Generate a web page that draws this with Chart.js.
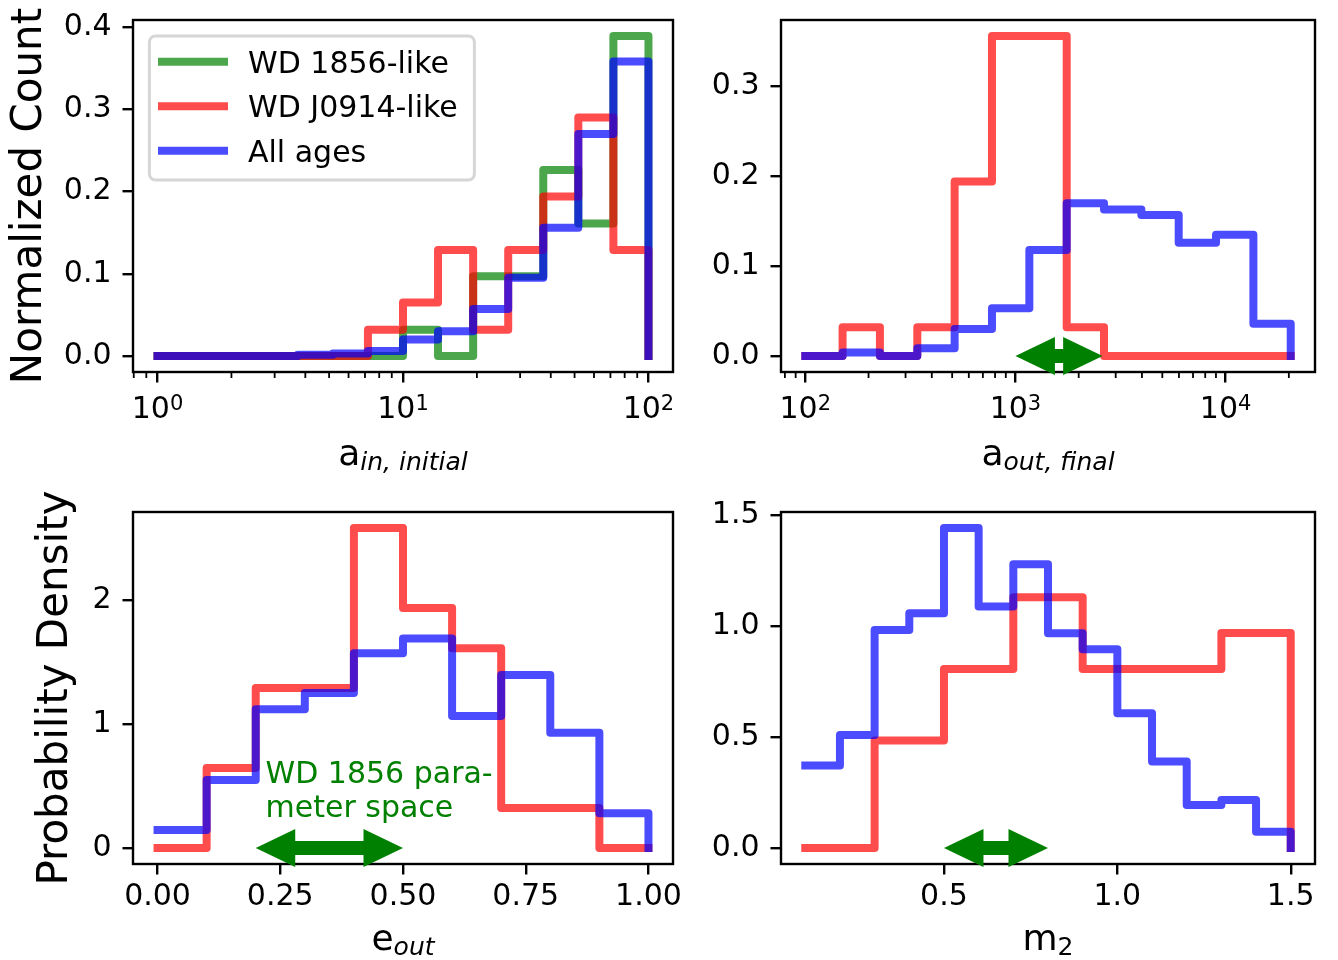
<!DOCTYPE html>
<html>
<head>
<meta charset="utf-8">
<script src="https://cdn.jsdelivr.net/npm/chart.js@4.4.1/dist/chart.umd.min.js"></script>
<style>
  html, body { margin: 0; padding: 0; background: #fff; }
  #fig { position: relative; width: 1338px; height: 960px; }
  canvas { position: absolute; }
</style>
</head>
<body>
<div id="fig">
  <canvas id="aIn" width="700" height="480" style="left:0;top:0"></canvas>
  <canvas id="aOut" width="638" height="480" style="left:700px;top:0"></canvas>
  <canvas id="eOut" width="700" height="480" style="left:0;top:480px"></canvas>
  <canvas id="m2" width="638" height="480" style="left:700px;top:480px"></canvas>
</div>
<script>
const seriesNames = ['WD 1856-like', 'WD J0914-like', 'All ages'];
const seriesColors = ['rgba(0,128,0,0.7)', 'rgba(255,0,0,0.7)', 'rgba(0,0,255,0.7)'];

// a_in, initial (14 log bins, 1..100)
const aInEdges = [1, 1.389, 1.931, 2.683, 3.728, 5.179, 7.197, 10, 13.89, 19.31, 26.83, 37.28, 51.79, 71.97, 100];
const aInWD1856 = [0, 0, 0, 0, 0, 0, 0, 0.032, 0, 0.097, 0.097, 0.226, 0.161, 0.389];
const aInJ0914 = [0, 0, 0, 0, 0, 0, 0.032, 0.065, 0.129, 0.032, 0.129, 0.194, 0.29, 0.129];
const aInAll = [0, 0, 0, 0, 0.0015, 0.003, 0.006, 0.02, 0.03, 0.057, 0.095, 0.156, 0.27, 0.358];

// a_out, final (13 log bins)
const aOutEdges = [100, 150.5, 226.6, 341.3, 513.7, 773.4, 1164.8, 1753.5, 2639.6, 3974, 5982.6, 9006.5, 13563, 20417];
const aOutJ0914 = [0, 0.032, 0, 0.032, 0.194, 0.356, 0.356, 0.032, 0, 0, 0, 0, 0];
const aOutAll = [0, 0.004, 0, 0.0085, 0.03, 0.053, 0.118, 0.17, 0.163, 0.157, 0.126, 0.135, 0.036];

// e_out
const eOutEdges = [0, 0.1, 0.2, 0.3, 0.4, 0.5, 0.6, 0.7, 0.8, 0.9, 1.0];
const eOutJ0914 = [0, 0.645, 1.29, 1.29, 2.58, 1.935, 1.61, 0.323, 0.323, 0];
const eOutAll = [0.145, 0.548, 1.118, 1.25, 1.57, 1.69, 1.065, 1.395, 0.93, 0.28];

// m_2
const m2EdgesJ0914 = [0.1, 0.3, 0.5, 0.7, 0.9, 1.1, 1.3, 1.5];
const m2J0914 = [0, 0.484, 0.806, 1.129, 0.806, 0.806, 0.968];
const m2EdgesAll = [0.1, 0.2, 0.3, 0.4, 0.5, 0.6, 0.7, 0.8, 0.9, 1.0, 1.1, 1.2, 1.3, 1.4, 1.5];
const m2All = [0.371, 0.509, 0.982, 1.057, 1.441, 1.087, 1.278, 0.967, 0.895, 0.607, 0.389, 0.194, 0.216, 0.073];

// WD 1856 parameter space arrows
const aOutArrow = [1000, 2600];
const eOutArrow = [0.2, 0.5];
const m2Arrow = [0.5, 0.8];

// ticks
const aInTicks = [1, 10, 100];
const aInMinor = [0.8, 0.9, 2, 3, 4, 5, 6, 7, 8, 9, 20, 30, 40, 50, 60, 70, 80, 90];
const aOutTicks = [100, 1000, 10000];
const aOutMinor = [80, 90, 200, 300, 400, 500, 600, 700, 800, 900, 2000, 3000, 4000, 5000, 6000, 7000, 8000, 9000, 20000];
const countTicksL = [0, 0.1, 0.2, 0.3, 0.4];
const countTicksR = [0, 0.1, 0.2, 0.3];
const eOutTicks = [0, 0.25, 0.5, 0.75, 1];
const densTicksL = [0, 1, 2];
const m2Ticks = [0.5, 1, 1.5];
const densTicksR = [0, 0.5, 1, 1.5];

Chart.defaults.font.family = 'DejaVu Sans';
Chart.defaults.color = '#000';

const font30 = { family: 'DejaVu Sans', size: 30 };
const tickGrid = { drawOnChartArea: false, drawTicks: true, tickLength: 10.5, tickWidth: 2.4, lineWidth: 2.4, tickColor: '#000', color: '#000' };

const fixed = n => v => Number(v).toFixed(n);
const blank = () => '';

function linPad(lo, hi) { const d = (hi - lo) * 0.05; return [lo - d, hi + d]; }
function logPad(lo, hi) {
  const a = Math.log10(lo), b = Math.log10(hi), d = (b - a) * 0.05;
  return [Math.pow(10, a - d), Math.pow(10, b + d)];
}
const maxOf = (...arrs) => Math.max(...arrs.flat());

// histogram outline: step across each bin, then drop to zero at the last edge
function steps(edges, heights) {
  const pts = heights.map((h, i) => ({ x: edges[i], y: h }));
  pts.push({ x: edges[edges.length - 1], y: 0 });
  return pts;
}
function histSet(idx, edges, heights) {
  return {
    label: seriesNames[idx],
    data: steps(edges, heights),
    borderColor: seriesColors[idx],
    borderWidth: 8,
    stepped: 'before',
    pointRadius: 0,
    borderCapStyle: 'square',
    borderJoinStyle: 'round',
    fill: false,
    order: 2 - idx,
  };
}

function xAxis(kind, range, ticks, fmt, pad, h) {
  return {
    type: kind, min: range[0], max: range[1], bounds: 'data',
    afterBuildTicks: s => { s.ticks = ticks.map(v => ({ value: v, major: true })); },
    afterFit: s => { s.height = h; s.paddingLeft = 0; s.paddingRight = 0; },
    grid: tickGrid, border: { display: false },
    ticks: { font: font30, color: '#000', padding: pad, autoSkip: false, maxRotation: 0, minRotation: 0, callback: fmt },
  };
}
function yAxis(range, ticks, fmt, w, title, titlePad) {
  return {
    type: 'linear', min: range[0], max: range[1], bounds: 'data',
    afterBuildTicks: s => { s.ticks = ticks.map(v => ({ value: v })); },
    afterFit: s => { s.width = w; s.paddingTop = 0; s.paddingBottom = 0; },
    grid: tickGrid, border: { display: false },
    ticks: { font: font30, color: '#000', padding: 11, autoSkip: false, callback: fmt },
    title: { display: !!title, text: title || '', color: '#000', font: { family: 'DejaVu Sans', size: 42 }, padding: { top: titlePad || 0, bottom: 0 } },
  };
}

function drawArrow(ctx, xa, xb, yc) {
  const hl = 39.5, hw = 19, sw = 7;
  ctx.beginPath();
  ctx.moveTo(xa, yc);
  ctx.lineTo(xa + hl, yc - hw);
  ctx.lineTo(xa + hl, yc - sw);
  ctx.lineTo(xb - hl, yc - sw);
  ctx.lineTo(xb - hl, yc - hw);
  ctx.lineTo(xb, yc);
  ctx.lineTo(xb - hl, yc + hw);
  ctx.lineTo(xb - hl, yc + sw);
  ctx.lineTo(xa + hl, yc + sw);
  ctx.lineTo(xa + hl, yc + hw);
  ctx.closePath();
  ctx.fillStyle = '#008000';
  ctx.fill();
}

const figureExtras = {
  id: 'figureExtras',
  afterDatasetsDraw(chart, args, opts) {
    const { ctx, chartArea: a } = chart;
    const x = chart.scales.x, y = chart.scales.y;
    ctx.save();

    // minor ticks and 10^n labels on log axes
    if (opts.minor) {
      ctx.strokeStyle = '#000';
      ctx.lineWidth = 1.8;
      opts.minor.forEach(v => {
        const px = x.getPixelForValue(v);
        if (px < a.left || px > a.right) return;
        ctx.beginPath();
        ctx.moveTo(px, a.bottom);
        ctx.lineTo(px, a.bottom + 6);
        ctx.stroke();
      });
    }
    if (opts.powers) {
      ctx.fillStyle = '#000';
      ctx.textAlign = 'left';
      ctx.textBaseline = 'alphabetic';
      opts.powers.forEach(v => {
        const exp = String(Math.round(Math.log10(v)));
        ctx.font = '30px "DejaVu Sans"';
        const wb = ctx.measureText('10').width;
        ctx.font = '21px "DejaVu Sans"';
        const we = ctx.measureText(exp).width;
        const x0 = x.getPixelForValue(v) - (wb + we) / 2;
        const base = a.bottom + 46.3;
        ctx.font = '30px "DejaVu Sans"';
        ctx.fillText('10', x0, base);
        ctx.font = '21px "DejaVu Sans"';
        ctx.fillText(exp, x0 + wb, base - 8.5);
      });
    }

    // axes frame
    ctx.strokeStyle = '#000';
    ctx.lineWidth = 2.4;
    ctx.strokeRect(a.left, a.top, a.right - a.left, a.bottom - a.top);

    // legend box
    if (opts.legend) {
      ctx.beginPath();
      ctx.roundRect(a.left + 16.4, a.top + 16, 325, 144, 6);
      ctx.fillStyle = 'rgba(255,255,255,0.8)';
      ctx.fill();
      ctx.strokeStyle = '#d6d6d6';
      ctx.lineWidth = 3;
      ctx.stroke();
      ctx.font = '30px "DejaVu Sans"';
      ctx.textAlign = 'left';
      ctx.textBaseline = 'alphabetic';
      seriesNames.forEach((name, i) => {
        const ry = a.top + 41.7 + i * 44.5;
        ctx.strokeStyle = seriesColors[i];
        ctx.lineWidth = 8;
        ctx.lineCap = 'square';
        ctx.beginPath();
        ctx.moveTo(a.left + 29, ry);
        ctx.lineTo(a.left + 91, ry);
        ctx.stroke();
        ctx.fillStyle = '#000';
        ctx.fillText(name, a.left + 115, ry + 10.9);
      });
    }

    // parameter-space arrow
    if (opts.arrow) {
      drawArrow(ctx, x.getPixelForValue(opts.arrow[0]), x.getPixelForValue(opts.arrow[1]), y.getPixelForValue(0));
    }

    // green note
    if (opts.note) {
      ctx.fillStyle = '#008000';
      ctx.font = '30px "DejaVu Sans"';
      ctx.textAlign = 'left';
      ctx.textBaseline = 'alphabetic';
      const px = x.getPixelForValue(opts.note.x), py = y.getPixelForValue(opts.note.y);
      const n = opts.note.lines.length;
      opts.note.lines.forEach((t, i) => ctx.fillText(t, px, py - (n - 1 - i) * 33.5));
    }

    // x label with subscript
    if (opts.xlabel) {
      const { main, sub, italic, drop } = opts.xlabel;
      const f1 = '36px "DejaVu Sans"';
      const f2 = (italic ? 'italic ' : '') + '25px "DejaVu Sans"';
      ctx.font = f1;
      const w1 = ctx.measureText(main).width;
      ctx.font = f2;
      const w2 = ctx.measureText(sub).width;
      const x0 = (a.left + a.right) / 2 - (w1 + w2) / 2;
      const base = a.bottom + drop;
      ctx.fillStyle = '#000';
      ctx.textAlign = 'left';
      ctx.textBaseline = 'alphabetic';
      ctx.font = f1;
      ctx.fillText(main, x0, base);
      ctx.font = f2;
      ctx.fillText(sub, x0 + w1, base + 5);
    }
    ctx.restore();
  }
};

function makePanel(id, datasets, scales, extras, padding) {
  return new Chart(document.getElementById(id), {
    type: 'line',
    data: { datasets },
    options: {
      responsive: false,
      animation: false,
      events: [],
      layout: { padding },
      plugins: { legend: { display: false }, tooltip: { enabled: false }, figureExtras: extras },
      scales,
    },
    plugins: [figureExtras],
  });
}

makePanel('aIn',
  [histSet(0, aInEdges, aInWD1856), histSet(1, aInEdges, aInJ0914), histSet(2, aInEdges, aInAll)],
  {
    x: xAxis('logarithmic', logPad(aInEdges[0], aInEdges[aInEdges.length - 1]), aInTicks, blank, 7.4, 108),
    y: yAxis(linPad(0, maxOf(aInWD1856, aInJ0914, aInAll)), countTicksL, fixed(1), 133, 'Normalized Count', 5),
  },
  { legend: true, minor: aInMinor, powers: aInTicks, xlabel: { main: 'a', sub: 'in, initial', italic: true, drop: 93 } },
  { left: 0, right: 27, top: 20, bottom: 0 });

makePanel('aOut',
  [histSet(1, aOutEdges, aOutJ0914), histSet(2, aOutEdges, aOutAll)],
  {
    x: xAxis('logarithmic', logPad(aOutEdges[0], aOutEdges[aOutEdges.length - 1]), aOutTicks, blank, 7.4, 108),
    y: yAxis(linPad(0, maxOf(aOutJ0914, aOutAll)), countTicksR, fixed(1), 81),
  },
  { minor: aOutMinor, powers: aOutTicks, arrow: aOutArrow, xlabel: { main: 'a', sub: 'out, final', italic: true, drop: 93 } },
  { left: 0, right: 23, top: 20, bottom: 0 });

makePanel('eOut',
  [histSet(1, eOutEdges, eOutJ0914), histSet(2, eOutEdges, eOutAll)],
  {
    x: xAxis('linear', linPad(eOutEdges[0], eOutEdges[eOutEdges.length - 1]), eOutTicks, fixed(2), 4.4, 96),
    y: yAxis(linPad(0, maxOf(eOutJ0914, eOutAll)), densTicksL, fixed(0), 133, 'Probability Density', 31),
  },
  { arrow: eOutArrow, note: { x: 0.22, y: 0.25, lines: ['WD 1856 para-', 'meter space'] }, xlabel: { main: 'e', sub: 'out', italic: true, drop: 86 } },
  { left: 0, right: 27, top: 32, bottom: 0 });

makePanel('m2',
  [histSet(1, m2EdgesJ0914, m2J0914), histSet(2, m2EdgesAll, m2All)],
  {
    x: xAxis('linear', linPad(m2EdgesAll[0], m2EdgesAll[m2EdgesAll.length - 1]), m2Ticks, fixed(1), 4.4, 96),
    y: yAxis(linPad(0, maxOf(m2J0914, m2All)), densTicksR, fixed(1), 81),
  },
  { arrow: m2Arrow, xlabel: { main: 'm', sub: '2', italic: false, drop: 86 } },
  { left: 0, right: 23, top: 32, bottom: 0 });
</script>
</body>
</html>
